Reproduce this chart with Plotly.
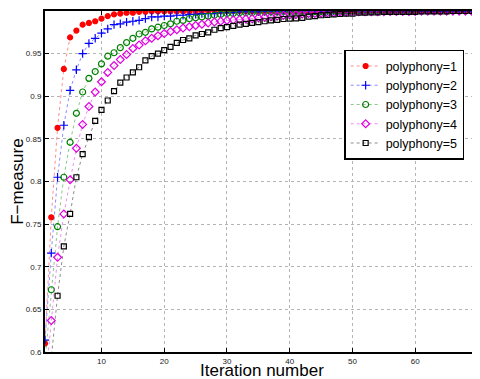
import plotly.graph_objects as go

iterations = list(range(1, 71))

poly1 = [0.610, 0.758, 0.863, 0.932, 0.969, 0.977, 0.984, 0.986, 0.988, 0.991,
         0.994, 0.996, 0.997, 0.998, 0.998, 0.999, 0.999, 0.9995, 0.9995, 0.9995,
         0.9995, 0.9995, 0.9995, 0.9995, 0.9995, 1.0, 1.0, 1.0, 1.0, 1.0,
         1.0, 1.0, 1.0, 1.0, 1.0, 1.0, 1.0, 1.0, 1.0, 1.0,
         1.0, 1.0, 1.0, 1.0, 1.0, 1.0, 1.0, 1.0, 1.0, 1.0,
         1.0, 1.0, 1.0, 1.0, 1.0, 1.0, 1.0, 1.0, 1.0, 1.0,
         1.0, 1.0, 1.0, 1.0, 1.0, 1.0, 1.0, 1.0, 1.0, 1.0]

poly2 = [0.614, 0.716, 0.805, 0.866, 0.907, 0.931, 0.950, 0.962, 0.968, 0.974,
         0.979, 0.984, 0.985, 0.987, 0.988, 0.989, 0.991, 0.993, 0.993, 0.994,
         0.994, 0.995, 0.995, 0.996, 0.996, 0.997, 0.997, 0.997, 0.998, 0.998,
         0.998, 0.999, 0.999, 0.999, 0.999, 0.9995, 0.9995, 0.9995, 0.9995, 0.9995,
         1.0, 1.0, 1.0, 1.0, 1.0, 1.0, 1.0, 1.0, 1.0, 1.0,
         1.0, 1.0, 1.0, 1.0, 1.0, 1.0, 1.0, 1.0, 1.0, 1.0,
         1.0, 1.0, 1.0, 1.0, 1.0, 1.0, 1.0, 1.0, 1.0, 1.0]

poly3 = [0.590, 0.673, 0.747, 0.805, 0.846, 0.880, 0.905, 0.921, 0.929, 0.938,
         0.947, 0.951, 0.957, 0.963, 0.968, 0.973, 0.975, 0.979, 0.981, 0.983,
         0.985, 0.988, 0.989, 0.991, 0.992, 0.993, 0.994, 0.995, 0.996, 0.997,
         0.997, 0.998, 0.998, 0.998, 0.999, 0.999, 0.999, 0.999, 0.9995, 0.9995,
         0.9995, 0.9995, 0.9995, 0.9995, 0.9995, 1.0, 1.0, 1.0, 1.0, 1.0,
         1.0, 1.0, 1.0, 1.0, 1.0, 1.0, 1.0, 1.0, 1.0, 1.0,
         1.0, 1.0, 1.0, 1.0, 1.0, 1.0, 1.0, 1.0, 1.0, 1.0]

poly4 = [0.560, 0.637, 0.711, 0.762, 0.802, 0.839, 0.867, 0.888, 0.905, 0.917,
         0.928, 0.936, 0.943, 0.949, 0.956, 0.960, 0.965, 0.968, 0.971, 0.9735,
         0.976, 0.978, 0.980, 0.9815, 0.983, 0.9845, 0.986, 0.987, 0.988, 0.989,
         0.9895, 0.990, 0.9905, 0.991, 0.992, 0.9926, 0.9934, 0.994, 0.995, 0.9955,
         0.996, 0.9965, 0.997, 0.997, 0.9975, 0.998, 0.998, 0.9985, 0.9985, 0.999,
         0.999, 0.999, 0.999, 0.999, 0.999, 0.9995, 0.9995, 0.9995, 0.9995, 0.9995,
         1.0, 1.0, 1.0, 1.0, 1.0, 1.0, 1.0, 1.0, 1.0, 1.0]

poly5 = [0.520, 0.590, 0.666, 0.724, 0.762, 0.805, 0.832, 0.852, 0.871, 0.884,
         0.895, 0.906, 0.916, 0.922, 0.928, 0.934, 0.942, 0.947, 0.950, 0.954,
         0.958, 0.9625, 0.966, 0.968, 0.9715, 0.973, 0.975, 0.978, 0.980, 0.981,
         0.9825, 0.984, 0.985, 0.986, 0.987, 0.988, 0.989, 0.9895, 0.9906, 0.991,
         0.9914, 0.992, 0.9934, 0.994, 0.995, 0.9955, 0.996, 0.9965, 0.997, 0.997,
         0.998, 0.998, 0.9985, 0.9985, 0.999, 0.999, 0.999, 0.999, 0.999, 0.999,
         0.9995, 0.9995, 0.9995, 0.9995, 0.9995, 1.0, 1.0, 1.0, 1.0, 1.0]

series_names = ["polyphony=1", "polyphony=2", "polyphony=3", "polyphony=4", "polyphony=5"]
series_values = [poly1, poly2, poly3, poly4, poly5]
series_colors = ["#ff0000", "#0000ff", "#008000", "#e000e0", "#000000"]
line_colors = ["rgba(255,0,0,0.45)", "rgba(0,0,255,0.45)", "rgba(0,128,0,0.45)",
               "rgba(224,0,224,0.45)", "rgba(0,0,0,0.45)"]
series_symbols = ["circle", "cross-thin-open", "circle-open", "diamond-open", "square-open"]
series_sizes = [5, 6, 6, 6, 5]

y_ticks = [0.6, 0.65, 0.7, 0.75, 0.8, 0.85, 0.9, 0.95, 1.0]
y_ticktext = ["0.6", "0.65", "0.7", "0.75", "0.8", "0.85", "0.9", "0.95", "1"]
x_ticks = [10, 20, 30, 40, 50, 60, 70]

font_family = "Liberation Sans, Arial, Helvetica, sans-serif"

fig = go.Figure()
for name, vals, col, lcol, sym, sz in zip(series_names, series_values, series_colors,
                                         line_colors, series_symbols, series_sizes):
    fig.add_trace(go.Scatter(
        x=iterations, y=vals, name=name, mode="lines+markers",
        line=dict(color=lcol, width=1, dash="dot"),
        marker=dict(symbol=sym, color=col, size=sz, line=dict(color=col, width=1.2)),
    ))

# the page body has an 8px margin; the figure is sized so it fills the window
fig.update_layout(
    width=472, height=371,
    margin=dict(l=37, r=0, t=3, b=27),
    paper_bgcolor="white", plot_bgcolor="white",
    font=dict(family=font_family, color="#000"),
    showlegend=True,
    legend=dict(
        x=0.968, y=0.886, xanchor="right", yanchor="top",
        bgcolor="white", bordercolor="black", borderwidth=1.5,
        font=dict(size=12.5, family=font_family, color="#000"),
        itemwidth=30, tracegroupgap=0,
    ),
    annotations=[
        dict(text="Iteration number", xref="paper", yref="paper",
             x=0.5, y=-0.0545, xanchor="center", yanchor="middle",
             showarrow=False, font=dict(size=17, family=font_family, color="#000")),
        dict(text="F\u2212measure", xref="paper", yref="paper",
             x=-0.064, y=0.5, xanchor="center", yanchor="middle", textangle=-90,
             showarrow=False, font=dict(size=17, family=font_family, color="#000")),
    ],
)

fig.update_xaxes(
    range=[1, 70], tickvals=x_ticks,
    showline=True, linecolor="black", linewidth=2, mirror="ticks",
    ticks="inside", ticklen=4, tickcolor="black",
    showgrid=True, gridcolor="#b4b4b4", griddash="dot", gridwidth=1,
    tickfont=dict(size=8, color="#222"),
    zeroline=False,
)
fig.update_yaxes(
    range=[0.6, 1.0], tickvals=y_ticks, ticktext=y_ticktext,
    showline=True, linecolor="black", linewidth=2, mirror="ticks",
    ticks="inside", ticklen=4, tickcolor="black",
    showgrid=True, gridcolor="#b4b4b4", griddash="dot", gridwidth=1,
    tickfont=dict(size=8, color="#222"),
    zeroline=False,
)

fig.write_html("out.html")
